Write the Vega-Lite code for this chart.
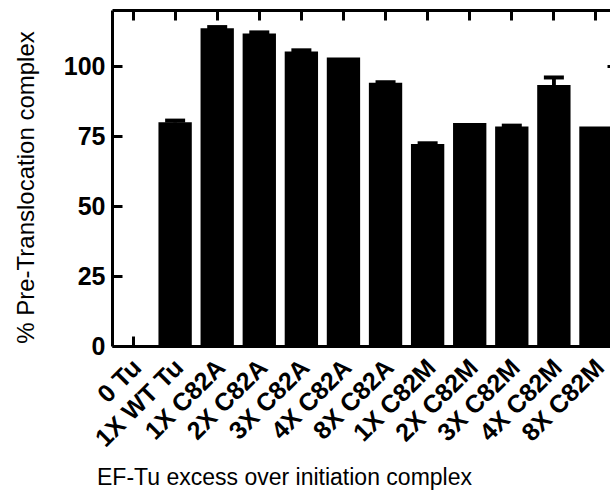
{
  "$schema": "https://vega.github.io/schema/vega-lite/v6.json",
  "autosize": "none",
  "width": 505,
  "height": 336,
  "padding": {"left": 112, "top": 10, "right": 0, "bottom": 146},
  "background": "white",
  "config": {"view": {"stroke": null}, "font": "Liberation Sans"},
  "data": {
    "values": [
      {"group": "0 Tu", "value": 0, "hi": null},
      {"group": "1X WT Tu", "value": 79.9, "hi": 80.5},
      {"group": "1X C82A", "value": 113.5, "hi": 113.9},
      {"group": "2X C82A", "value": 111.6, "hi": 112.0},
      {"group": "3X C82A", "value": 105.2, "hi": 105.6},
      {"group": "4X C82A", "value": 103.0, "hi": null},
      {"group": "8X C82A", "value": 94.0, "hi": 94.2},
      {"group": "1X C82M", "value": 72.1, "hi": 72.4},
      {"group": "2X C82M", "value": 79.6, "hi": null},
      {"group": "3X C82M", "value": 78.4, "hi": 78.7},
      {"group": "4X C82M", "value": 93.2, "hi": 95.9},
      {"group": "8X C82M", "value": 78.4, "hi": null}
    ]
  },
  "resolve": {"axis": {"x": "independent", "y": "independent"}},
  "layer": [
    {
      "mark": {"type": "bar", "color": "black"},
      "encoding": {
        "x": {
          "field": "group", "type": "nominal", "sort": null,
          "scale": {"paddingInner": 0.208, "paddingOuter": 0.104},
          "axis": {
            "orient": "bottom",
            "title": "EF-Tu excess over initiation complex",
            "titleFont": "Liberation Sans", "titleFontSize": 23, "titleFontWeight": "normal", "titleColor": "black",
            "titleX": 172, "titleY": 138, "titleBaseline": "alphabetic", "titleAlign": "center",
            "labelAngle": -45, "labelAlign": "right", "labelBaseline": "middle",
            "labelFont": "Liberation Sans", "labelFontSize": 25, "labelFontWeight": "bold", "labelColor": "black",
            "labelPadding": 17, "labelOffset": 4,
            "domainColor": "black", "domainWidth": 3,
            "ticks": false, "tickSize": 10
          }
        },
        "y": {
          "field": "value", "type": "quantitative",
          "scale": {"domain": [0, 120], "nice": false},
          "axis": {
            "orient": "left",
            "values": [0, 25, 50, 75, 100],
            "title": "% Pre-Translocation complex",
            "titleFont": "Liberation Sans", "titleFontSize": 24, "titleFontWeight": "normal", "titleColor": "black",
            "titleX": -79, "titleY": 177, "titleBaseline": "alphabetic", "titleAlign": "center", "titleAngle": -90,
            "labelFont": "Liberation Sans", "labelFontSize": 25, "labelFontWeight": "bold", "labelColor": "black",
            "labelPadding": 7,
            "domainColor": "black", "domainWidth": 3,
            "ticks": false, "tickSize": 0,
            "grid": false
          }
        }
      }
    },
    {
      "mark": {"type": "rule", "color": "black", "strokeWidth": 3.5},
      "encoding": {
        "x": {
          "field": "group", "type": "nominal", "sort": null,
          "axis": {"orient": "bottom", "labels": false, "title": null, "domain": false,
            "offset": -10, "tickColor": "black", "tickWidth": 3, "tickSize": 10}
        },
        "y": {
          "field": "value", "type": "quantitative",
          "axis": {"orient": "left", "labels": false, "title": null, "domain": false, "values": [0, 25, 50, 75, 100],
            "offset": -10, "tickColor": "black", "tickWidth": 3, "tickSize": 10, "grid": false}
        },
        "y2": {"field": "hi"}
      }
    },
    {
      "mark": {"type": "tick", "color": "black", "opacity": 1, "thickness": 4, "size": 20},
      "encoding": {
        "x": {
          "field": "group", "type": "nominal", "sort": null,
          "axis": {"orient": "top", "labels": false, "title": null, "ticks": false,
            "domainColor": "black", "domainWidth": 3}
        },
        "y": {
          "field": "hi", "type": "quantitative",
          "axis": {"orient": "right", "labels": false, "title": null, "ticks": false,
            "domainColor": "black", "domainWidth": 3, "grid": false}
        }
      }
    },
    {
      "mark": {"type": "rule", "color": "black", "strokeWidth": 3.5},
      "encoding": {
        "x": {
          "field": "group", "type": "nominal", "sort": null,
          "axis": {"orient": "top", "labels": false, "title": null, "domain": false,
            "offset": -10, "tickColor": "black", "tickWidth": 3, "tickSize": 10}
        },
        "y": {
          "field": "value", "type": "quantitative",
          "axis": {"orient": "right", "labels": false, "title": null, "domain": false, "values": [0, 25, 50, 75, 100],
            "offset": -10, "tickColor": "black", "tickWidth": 3, "tickSize": 10, "grid": false}
        },
        "y2": {"field": "hi"}
      }
    }
  ]
}
